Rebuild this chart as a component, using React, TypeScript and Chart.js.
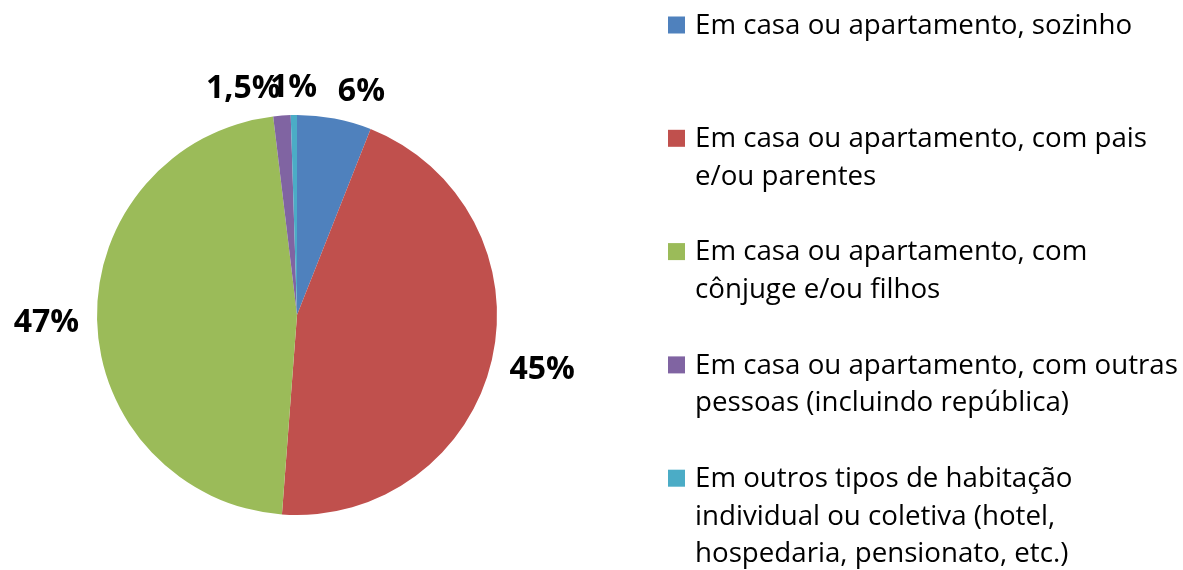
import React, { useEffect, useRef } from "react";
import { Chart, registerables } from "chart.js";

Chart.register(...registerables);

const categories = [
  "Em casa ou apartamento, sozinho",
  "Em casa ou apartamento, com pais\ne/ou parentes",
  "Em casa ou apartamento, com\ncônjuge e/ou filhos",
  "Em casa ou apartamento, com outras\npessoas (incluindo república)",
  "Em outros tipos de habitação\nindividual ou coletiva (hotel,\nhospedaria, pensionato, etc.)",
];
const values = [6, 45.2, 46.9, 1.4, 0.5];
const valueLabels = ["6%", "45%", "47%", "1,5%", "1%"];
const colors = ["#4F81BD", "#C0504D", "#9BBB59", "#8064A2", "#4BACC6"];

const LABEL_FONT = "bold 32px 'Open Sans'";
const LEGEND_FONT = "27.7px 'Open Sans'";

const labelsPlugin = {
  id: "customLabels",
  afterDraw(chart: any) {
    const ctx = chart.ctx;
    const meta = chart.getDatasetMeta(0);
    ctx.save();
    ctx.font = LABEL_FONT;
    ctx.fillStyle = "#000";
    ctx.textBaseline = "middle";
    meta.data.forEach((arc: any, i: number) => {
      const p = arc.getProps(["x", "y", "startAngle", "endAngle", "outerRadius"], true);
      const mid = (p.startAngle + p.endAngle) / 2;
      const c = Math.cos(mid);
      const s = Math.sin(mid);
      const d = p.outerRadius + 18;
      const ax = p.x + c * d;
      const ay = p.y + s * d + s * 12 + 3;
      const text = valueLabels[i];
      if (Math.abs(c) < 0.03) ctx.textAlign = "center";
      else ctx.textAlign = c > 0 ? "left" : "right";
      ctx.fillText(text, ax, ay);
    });
    ctx.restore();

    // legend
    ctx.save();
    ctx.font = LEGEND_FONT;
    ctx.textBaseline = "middle";
    ctx.textAlign = "left";
    const top = 25;
    const itemStep = 113.3;
    const lineH = 37.7;
    categories.forEach((cat, i) => {
      const y0 = top + i * itemStep;
      ctx.fillStyle = colors[i];
      ctx.fillRect(668, y0 - 8.5, 17, 17);
      ctx.fillStyle = "#000";
      cat.split("\n").forEach((line, j) => {
        ctx.fillText(line, 695, y0 + j * lineH + 1);
      });
    });
    ctx.restore();
  },
};

export default function App() {
  const ref = useRef<HTMLCanvasElement | null>(null);
  useEffect(() => {
    document.body.style.margin = "0";
    const chart = new Chart(ref.current!, {
      type: "pie",
      data: {
        labels: categories,
        datasets: [
          {
            data: values,
            backgroundColor: colors,
            borderWidth: 0,
          },
        ],
      },
      options: {
        responsive: false,
        animation: false,
        layout: { padding: { left: 97, right: 686, top: 115, bottom: 55 } },
        plugins: { legend: { display: false }, tooltip: { enabled: false } },
      },
      plugins: [labelsPlugin],
    });
    return () => chart.destroy();
  }, []);
  return (
    <div style={{ width: 1183, height: 570, background: "#fff" }}>
      <canvas ref={ref} width={1183} height={570} style={{ display: "block" }} />
    </div>
  );
}
